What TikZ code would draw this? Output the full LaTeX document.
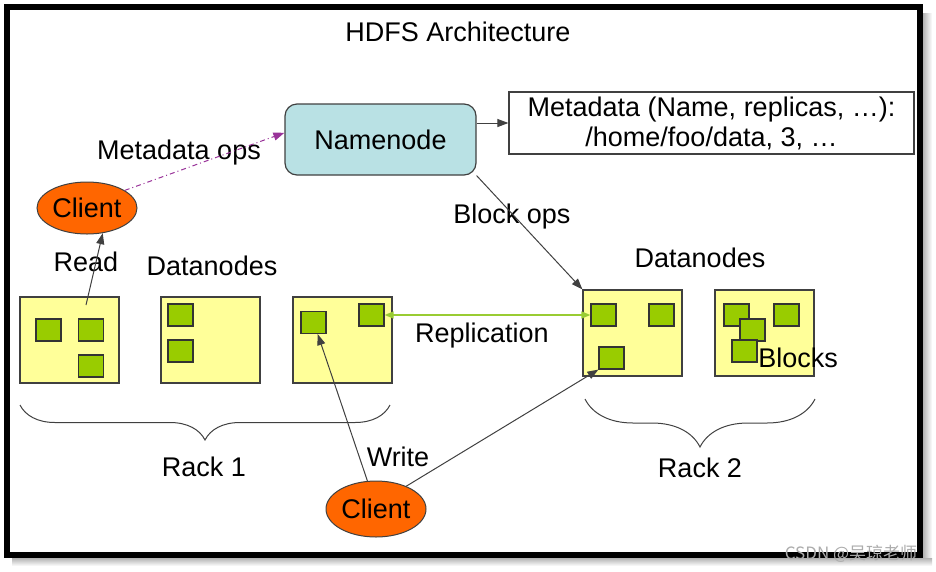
\documentclass[tikz,border=0pt]{standalone}
\usepackage{fontspec}
\setmainfont{Liberation Sans}
\newfontfamily\cjkfont{Noto Sans CJK SC}
\usetikzlibrary{arrows.meta,positioning,calc,decorations.pathreplacing,shapes.geometric}
\definecolor{nodeteal}{HTML}{B9E1E4}
\definecolor{clientorange}{HTML}{FF6600}
\definecolor{dnyellow}{HTML}{FFFF99}
\definecolor{blockgreen}{HTML}{99CC00}
\definecolor{replgreen}{HTML}{99CC33}
\definecolor{opsviolet}{HTML}{993399}
\definecolor{edgegray}{HTML}{404040}

\begin{document}
\begin{tikzpicture}[
    x=1pt, y=-1pt,
    font=\fontsize{27}{30}\selectfont,
    >={Triangle[length=11pt, width=8pt]},
    txt/.style={inner sep=0pt, text depth=0pt, align=center},
    namenode/.style={draw=edgegray, fill=nodeteal, line width=1.2pt, rounded corners=12pt, minimum width=191pt, minimum height=71pt},
    metabox/.style={draw=edgegray, line width=1.2pt, minimum width=405pt, minimum height=62pt, inner sep=0pt, align=center},
    client/.style={ellipse, draw=edgegray, fill=clientorange, line width=1pt, minimum width=100pt, minimum height=52pt, inner sep=0pt},
    datanode/.style={draw=edgegray, fill=dnyellow, line width=1.2pt, minimum width=99pt, minimum height=86pt, inner sep=0pt},
    block/.style={draw=black!80, fill=blockgreen, line width=1.2pt, minimum width=25pt, minimum height=22pt, inner sep=0pt},
    arrow/.style={->, line width=1pt, draw=edgegray},
    opsarrow/.style={->, line width=1pt, draw=opsviolet, dash pattern=on 5pt off 3pt on 1pt off 3pt},
    replarrow/.style={<->, line width=1.5pt, draw=replgreen, >={Triangle[length=9pt, width=7pt]}},
    rack/.style={decorate, decoration={brace, mirror, amplitude=#1}, line width=1pt, draw=edgegray},
]
    \useasboundingbox (0,0) rectangle (936,571);

    % =====================================================================
    % Frame
    % =====================================================================
    \fill[left color=gray!60, right color=white] (923,13) rectangle (932,563);
    \fill[top color=gray!60, bottom color=white] (12,558) rectangle (932,566);
    \draw[line width=6pt] (7,7) rectangle (920,555);

    \node[txt] (title) at (458,32) {HDFS Architecture};

    % =====================================================================
    % Namenode and metadata
    % =====================================================================
    \node[namenode] (nn) at (380.5,139.5) {Namenode};
    \node[metabox] (md) at (711.5,123) {Metadata (Name, replicas, \dots):\\/home/foo/data, 3, \dots};
    \draw[arrow] (nn.east |- md.west) -- (md.west);

    % Reading client
    \node[client] (c1) at (87,208) {Client};
    \node[txt] (mdops) at (179,150) {Metadata ops};
    \draw[opsarrow] (c1.25) -- (nn.176);

    % =====================================================================
    % Rack 1
    % =====================================================================
    \node[txt] (read) at (86,262) {Read};
    \node[txt] (dnlbl1) at (212,266) {Datanodes};

    \node[datanode] (dn1) at (69.5,340) {};
    \node[datanode] (dn2) at (210.5,340) {};
    \node[datanode] (dn3) at (342.5,340) {};

    \node[block] (b1a) at (48.5,330) {};
    \node[block] (b1b) at (91,330) {};
    \node[block] (b1c) at (91,366) {};
    \node[block] (b2a) at (180.5,315) {};
    \node[block] (b2b) at (180.5,351) {};
    \node[block] (b3a) at (313.5,322.5) {};
    \node[block] (b3b) at (371.5,315) {};

    \coordinate (rd) at (86,305);
    \draw[arrow] (rd) -- (c1.-58);

    \draw[rack=35pt] (20,405) -- (390,405);
    \node[txt] (rack1) at (204,467) {Rack 1};

    % =====================================================================
    % Rack 2
    % =====================================================================
    \node[txt] (blkops) at (512,214) {Block ops};
    \node[txt] (dnlbl2) at (700,258) {Datanodes};

    \node[datanode] (dn4) at (632.5,333) {};
    \node[datanode] (dn5) at (764.5,333) {};

    \node[block] (b4a) at (603.5,315) {};
    \node[block] (b4b) at (661.5,315) {};
    \node[block] (b4c) at (611.5,358) {};
    \node[block] (b5a) at (736.5,315) {};
    \node[block] (b5b) at (752.5,330) {};
    \node[block] (b5c) at (744.5,351) {};
    \node[block] (b5d) at (786.5,315) {};
    \node[txt] (blocks) at (798,358) {Blocks};

    \draw[arrow] (nn.south east) -- (dn4.north west);

    \draw[replarrow] (b3b.east) -- (b4a.west);
    \node[txt] (repl) at (482,333) {Replication};

    \draw[rack=48pt] (585,399) -- (815,399);
    \node[txt] (rack2) at (700,468) {Rack 2};

    % Writing client
    \node[client, minimum height=56pt] (c2) at (376,509) {Client};
    \node[txt] (write) at (398,457) {Write};
    \draw[arrow] (c2.107) -- (b3a.-70);
    \draw[arrow] (c2.37) -- (b4c.south west);

    % Watermark
    \node[txt, font=\cjkfont\fontsize{17}{17}\selectfont, text=gray!65] (wm) at (851,552) {CSDN @吴琼老师};

\end{tikzpicture}
\end{document}
